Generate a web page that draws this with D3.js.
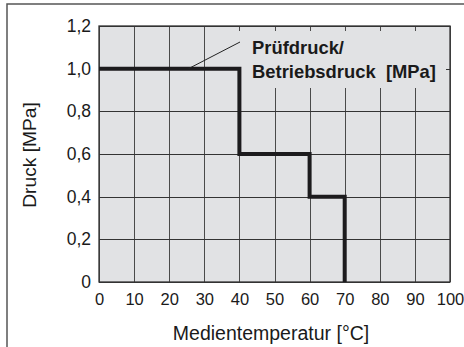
<!DOCTYPE html>
<html>
<head>
<meta charset="utf-8">
<script src="https://cdn.jsdelivr.net/npm/d3@7"></script>
<style>
  html, body { margin: 0; padding: 0; background: #fff; }
  svg { display: block; font-family: "Liberation Sans", Arial, Helvetica, sans-serif; }
</style>
</head>
<body>
<svg id="chart" width="464" height="347"></svg>
<script>
// Step profile: pressure valid from each temperature up to the next one
const temperatures = [0, 40, 60, 70];
const pressures = [1.0, 0.6, 0.4, 0];

const xTicks = [0, 10, 20, 30, 40, 50, 60, 70, 80, 90, 100];
const yTicks = [0, 0.2, 0.4, 0.6, 0.8, 1.0, 1.2];

const xTitle = "Medientemperatur [°C]";
const yTitle = "Druck [MPa]";
const noteLines = ["Prüfdruck/", "Betriebsdruck  [MPa]"];

const svg = d3.select("#chart");
const W = 464, H = 347;
const plot = { left: 99, right: 450, top: 26, bottom: 282 };

const x = d3.scaleLinear().domain([0, 100]).range([plot.left, plot.right]);
const y = d3.scaleLinear().domain([0, 1.2]).range([plot.bottom, plot.top]);

const fmtY = v => v === 0 ? "0" : d3.format(".1f")(v).replace(".", ",");

// outer frame (top and left edges)
svg.append("path")
  .attr("d", `M7,${H} V4 H${W}`)
  .attr("fill", "none")
  .attr("stroke", "#555")
  .attr("stroke-width", 1.5);

// plot background
svg.append("rect")
  .attr("x", plot.left).attr("y", plot.top)
  .attr("width", plot.right - plot.left)
  .attr("height", plot.bottom - plot.top)
  .attr("fill", "#e1e2e4");

// grid
const grid = svg.append("g").attr("stroke", "#333").attr("stroke-width", 1);
grid.selectAll("line.v").data(xTicks).join("line")
  .attr("class", "v")
  .attr("x1", d => Math.round(x(d)) + 0.5).attr("x2", d => Math.round(x(d)) + 0.5)
  .attr("y1", plot.top).attr("y2", plot.bottom)
  .attr("stroke", "#4a4a4a");
grid.selectAll("line.h").data(yTicks).join("line")
  .attr("class", "h")
  .attr("x1", plot.left).attr("x2", plot.right)
  .attr("y1", d => Math.round(y(d)) + 0.5).attr("y2", d => Math.round(y(d)) + 0.5);

// note box masks the grid behind the label
svg.append("rect")
  .attr("x", 237).attr("y", 31)
  .attr("width", 209).attr("height", 57)
  .attr("fill", "#e1e2e4");

// plot border
svg.append("rect")
  .attr("x", plot.left).attr("y", plot.top)
  .attr("width", plot.right - plot.left)
  .attr("height", plot.bottom - plot.top)
  .attr("fill", "none")
  .attr("stroke", "#333")
  .attr("stroke-width", 1.3);

// axes (labels only)
const xAxis = d3.axisBottom(x).tickValues(xTicks).tickSize(0).tickPadding(11).tickFormat(d3.format("d"));
svg.append("g")
  .attr("transform", `translate(0,${plot.bottom})`)
  .call(xAxis)
  .call(g => g.select(".domain").remove())
  .call(g => g.selectAll("text").attr("font-size", 16.5).attr("fill", "#1a1a1a")
    .attr("font-family", "Liberation Sans, Arial, sans-serif"));

const yAxis = d3.axisLeft(y).tickValues(yTicks).tickSize(0).tickPadding(8).tickFormat(fmtY);
svg.append("g")
  .attr("transform", `translate(${plot.left},0)`)
  .call(yAxis)
  .call(g => g.select(".domain").remove())
  .call(g => g.selectAll("text").attr("font-size", 17.5).attr("fill", "#1a1a1a")
    .attr("font-family", "Liberation Sans, Arial, sans-serif"));

// step line
const line = d3.line()
  .x((d, i) => x(temperatures[i]))
  .y(d => y(d))
  .curve(d3.curveStepAfter);
svg.append("path")
  .datum(pressures)
  .attr("d", line)
  .attr("fill", "none")
  .attr("stroke", "#1c1b1d")
  .attr("stroke-width", 4)
  .attr("stroke-linejoin", "miter")
  .attr("stroke-linecap", "butt");

// leader line from the curve to the note
svg.append("line")
  .attr("x1", x(25.5)).attr("y1", y(1.0))
  .attr("x2", 240).attr("y2", 42)
  .attr("stroke", "#222").attr("stroke-width", 1);

// note text
const note = svg.append("text")
  .attr("font-size", 18.4)
  .attr("font-weight", "bold")
  .attr("fill", "#1a1a1a")
  .style("white-space", "pre");
note.selectAll("tspan").data(noteLines).join("tspan")
  .attr("x", 252)
  .attr("y", (d, i) => 53.5 + i * 24.5)
  .text(d => d);

// axis titles
svg.append("text")
  .attr("x", 271).attr("y", 340)
  .attr("text-anchor", "middle")
  .attr("font-size", 19.5)
  .attr("fill", "#1a1a1a")
  .text(xTitle);

svg.append("text")
  .attr("transform", "translate(35.5,155) rotate(-90)")
  .attr("text-anchor", "middle")
  .attr("font-size", 19.2)
  .attr("fill", "#1a1a1a")
  .text(yTitle);
</script>
</body>
</html>
